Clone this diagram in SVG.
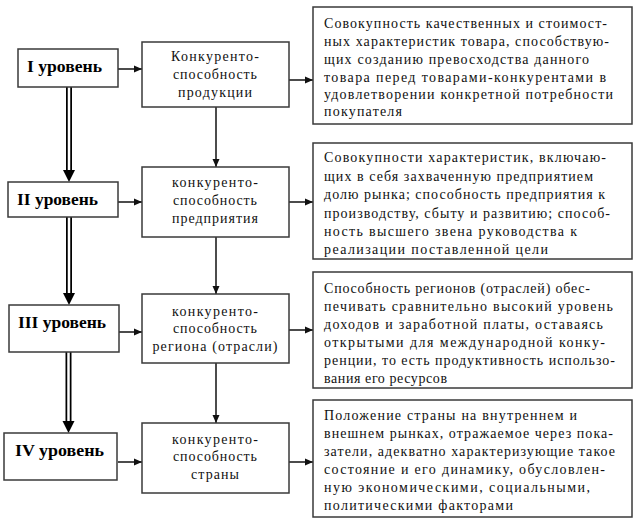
<svg xmlns="http://www.w3.org/2000/svg" width="637" height="522" viewBox="0 0 637 522">
<style>
.box{fill:#fff;stroke:#3a3a3a;stroke-width:1.5}
.lvl{font-family:'Liberation Serif','DejaVu Serif',serif;font-weight:bold;font-size:16px;fill:#000}
.mid{font-family:'Liberation Serif','DejaVu Serif',serif;font-size:14px;fill:#111;text-anchor:middle}
.txt{font-family:'Liberation Serif','DejaVu Serif',serif;font-size:14px;fill:#111}
.ar{stroke:#111;stroke-width:1.5;fill:none;marker-end:url(#ah)}
.dbo{stroke:#000;stroke-width:6;fill:none}
.dbi{stroke:#fff;stroke-width:2.5;fill:none}
</style>
<defs>
<marker id="ah" markerUnits="userSpaceOnUse" markerWidth="8" markerHeight="8" viewBox="0 0 8 8" refX="8" refY="4" orient="auto">
<path d="M0,0.5 L8,4 L0,7.5 Z" fill="#111"/>
</marker>
<path id="bigHead" d="M-6,-12 L6,-12 L0,0 Z" fill="#000"/>
</defs>
<rect width="637" height="522" fill="#fff"/>

<g id="connectors">
<path class="dbo" d="M69,87 V171"/><path class="dbi" d="M69,87 V171"/><use href="#bigHead" x="69" y="182"/>
<path class="dbo" d="M69,217 V294"/><path class="dbi" d="M69,217 V294"/><use href="#bigHead" x="69" y="305"/>
<path class="dbo" d="M68.5,352 V422"/><path class="dbi" d="M68.5,352 V422"/><use href="#bigHead" x="68.5" y="433"/>
<path class="ar" d="M118,69 H142"/>
<path class="ar" d="M289,80 H313"/>
<path class="ar" d="M118,202 H142"/>
<path class="ar" d="M289,202 H313"/>
<path class="ar" d="M119,332 H142"/>
<path class="ar" d="M289,330 H313"/>
<path class="ar" d="M118,462 H142"/>
<path class="ar" d="M289,462 H313"/>
<path class="ar" d="M216,107 V167"/>
<path class="ar" d="M216,237 V294"/>
<path class="ar" d="M216,363 V423"/>
</g>

<g id="level1"><rect class="box" x="18" y="49" width="100" height="38"/><text class="lvl" x="27" y="72" textLength="75" lengthAdjust="spacingAndGlyphs">I уровень</text></g>
<g id="level2"><rect class="box" x="8" y="182" width="110" height="35"/><text class="lvl" x="17" y="205" textLength="81" lengthAdjust="spacingAndGlyphs">II уровень</text></g>
<g id="level3"><rect class="box" x="9" y="305" width="110" height="47"/><text class="lvl" x="18" y="328" textLength="88" lengthAdjust="spacingAndGlyphs">III уровень</text></g>
<g id="level4"><rect class="box" x="4" y="433" width="113" height="47"/><text class="lvl" x="15" y="456" textLength="89" lengthAdjust="spacingAndGlyphs">IV уровень</text></g>

<g id="comp1"><rect class="box" x="142" y="42" width="147" height="65"/>
<text class="mid" x="215" y="61" textLength="88">Конкуренто-</text>
<text class="mid" x="215" y="79" textLength="84">способность</text>
<text class="mid" x="215" y="97" textLength="74">продукции</text></g>
<g id="comp2"><rect class="box" x="142" y="167" width="147" height="70"/>
<text class="mid" x="215" y="187" textLength="86">конкуренто-</text>
<text class="mid" x="215" y="205" textLength="84">способность</text>
<text class="mid" x="215" y="223" textLength="86">предприятия</text></g>
<g id="comp3"><rect class="box" x="142" y="294" width="147" height="69"/>
<text class="mid" x="215" y="316" textLength="86">конкуренто-</text>
<text class="mid" x="215" y="333" textLength="84">способность</text>
<text class="mid" x="215" y="351" textLength="125">региона (отрасли)</text></g>
<g id="comp4"><rect class="box" x="142" y="423" width="147" height="70"/>
<text class="mid" x="215" y="444" textLength="86">конкуренто-</text>
<text class="mid" x="215" y="461" textLength="84">способность</text>
<text class="mid" x="215" y="479" textLength="48">страны</text></g>

<g id="def1"><rect class="box" x="313" y="7" width="319" height="117"/>
<text class="txt" x="324" y="28" textLength="283">Совокупность качественных и стоимост-</text>
<text class="txt" x="324" y="46" textLength="285">ных характеристик товара, способствую-</text>
<text class="txt" x="324" y="63.5" textLength="265">щих созданию превосходства данного</text>
<text class="txt" x="324" y="81.5" textLength="282">товара перед товарами-конкурентами в</text>
<text class="txt" x="324" y="99" textLength="289">удовлетворении конкретной потребности</text>
<text class="txt" x="324" y="116" textLength="78">покупателя</text></g>
<g id="def2"><rect class="box" x="313" y="143" width="319" height="116"/>
<text class="txt" x="324" y="162" textLength="282">Совокупности характеристик, включаю-</text>
<text class="txt" x="324" y="180.5" textLength="269">щих в себя захваченную предприятием</text>
<text class="txt" x="324" y="199" textLength="281">долю рынка; способность предприятия к</text>
<text class="txt" x="324" y="217.5" textLength="286">производству, сбыту и развитию; способ-</text>
<text class="txt" x="324" y="236" textLength="253">ность высшего звена руководства к</text>
<text class="txt" x="324" y="254" textLength="224">реализации поставленной цели</text></g>
<g id="def3"><rect class="box" x="313" y="272" width="319" height="116"/>
<text class="txt" x="324" y="292.5" textLength="266">Способность регионов (отраслей) обес-</text>
<text class="txt" x="324" y="311" textLength="289">печивать сравнительно высокий уровень</text>
<text class="txt" x="324" y="329" textLength="279">доходов и заработной платы, оставаясь</text>
<text class="txt" x="324" y="347" textLength="281">открытыми для международной конку-</text>
<text class="txt" x="324" y="365" textLength="291">ренции, то есть продуктивность использо-</text>
<text class="txt" x="324" y="382.5" textLength="123">вания его ресурсов</text></g>
<g id="def4"><rect class="box" x="313" y="400" width="319" height="117"/>
<text class="txt" x="324" y="419.5" textLength="253">Положение страны на внутреннем и</text>
<text class="txt" x="324" y="437.5" textLength="289">внешнем рынках, отражаемое через пока-</text>
<text class="txt" x="324" y="456" textLength="291">затели, адекватно характеризующие такое</text>
<text class="txt" x="324" y="474" textLength="281">состояние и его динамику, обусловлен-</text>
<text class="txt" x="324" y="492" textLength="266">ную экономическими, социальными,</text>
<text class="txt" x="324" y="510" textLength="189">политическими факторами</text></g>
</svg>
